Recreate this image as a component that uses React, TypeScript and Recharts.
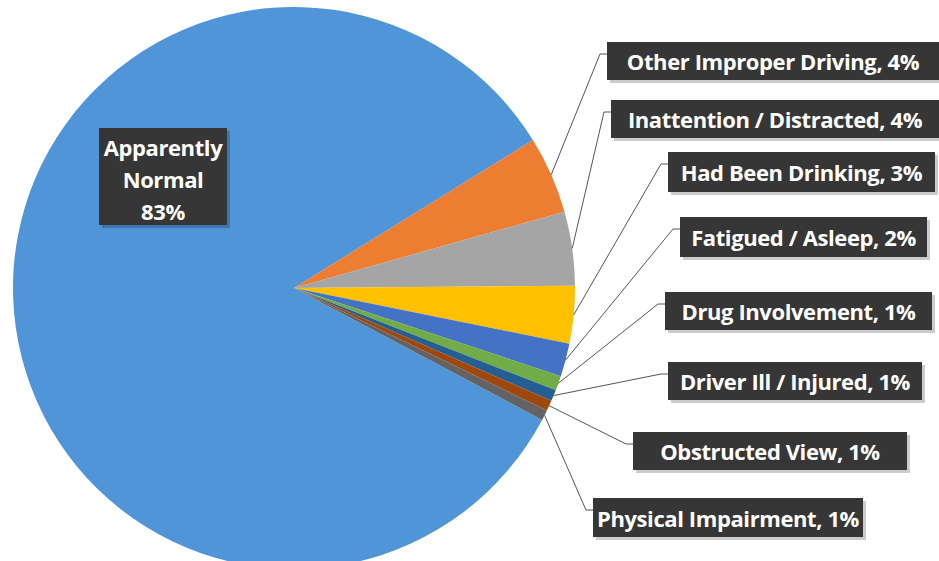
import React from 'react'
import { PieChart, Pie, Cell } from 'recharts'

// factors (percent of crashes)
const FACTORS = [
    'Apparently Normal',
    'Other Improper Driving',
    'Inattention / Distracted',
    'Had Been Drinking',
    'Fatigued / Asleep',
    'Drug Involvement',
    'Driver Ill / Injured',
    'Obstructed View',
    'Physical Impairment',
]
const SHARES = [83.4, 4.45, 4.25, 3.3, 1.9, 0.85, 0.65, 0.6, 0.6]
const COLORS = ['#4F95D8', '#ED7D31', '#A5A5A5', '#FFC000', '#4472C4', '#70AD47', '#255E91', '#9E480E', '#636363']

// where the label boxes sit (x, y, w, h)
const BOXES = [
    [99, 128, 128, 97],
    [607, 42, 332, 38],
    [611, 100, 328, 38],
    [668, 152, 267, 40],
    [680, 217, 247, 40],
    [665, 292, 267, 38],
    [668, 362, 254, 38],
    [633, 432, 274, 38],
    [593, 498, 270, 39],
]

const data = FACTORS.map((name, i) => ({ name, value: SHARES[i] }))

const RAD = Math.PI / 180
const FONT = '"Open Sans", Lato, sans-serif'
const BOX_FILL = '#363636'

const renderLabel = (props: any) => {
    const { cx, cy, midAngle, outerRadius, index, name, percent } = props
    const [bx, by, bw, bh] = BOXES[index]
    const pct = `${Math.round(percent * 100)}%`

    if (index === 0) {
        const words = name.split(' ')
        return (
            <g>
                <rect x={bx + 3} y={by + 3} width={bw} height={bh} fill="#000" opacity={0.2} />
                <rect x={bx} y={by} width={bw} height={bh} fill={BOX_FILL} />
                {[words[0], words[1], pct].map((t, k) => (
                    <text key={k} x={bx + bw / 2} y={by + 19 + k * 32} textAnchor="middle" dominantBaseline="central"
                        fill="#fff" fontFamily={FONT} fontWeight={700} fontSize={22} letterSpacing={-0.4}>{t}</text>
                ))}
            </g>
        )
    }

    const sx = cx + outerRadius * Math.cos(-midAngle * RAD)
    const sy = cy + outerRadius * Math.sin(-midAngle * RAD)
    const ex = bx - 7
    const ey = by + 12

    return (
        <g>
            <polyline points={`${sx},${sy} ${ex},${ey} ${bx},${ey}`} fill="none" stroke="#555" strokeWidth={1} />
            <rect x={bx + 3} y={by + 3} width={bw} height={bh} fill="#000" opacity={0.2} />
            <rect x={bx} y={by} width={bw} height={bh} fill={BOX_FILL} />
            <text x={bx + bw / 2} y={by + bh / 2} textAnchor="middle" dominantBaseline="central"
                fill="#fff" fontFamily={FONT} fontWeight={700} fontSize={22} letterSpacing={-0.4}>
                {`${name}, ${pct}`}
            </text>
        </g>
    )
}

export default function App() {
    return (
        <div style={{ position: 'absolute', left: 0, top: 0, background: '#fff' }}>
            <PieChart width={939} height={561} margin={{ top: 0, right: 0, bottom: 0, left: 0 }}>
                <Pie
                    data={data}
                    dataKey="value"
                    nameKey="name"
                    cx={294}
                    cy={288}
                    outerRadius={281}
                    startAngle={-28}
                    endAngle={-388}
                    stroke="none"
                    isAnimationActive={false}
                    label={renderLabel}
                    labelLine={false}
                >
                    {data.map((entry, index) => (
                        <Cell key={`cell-${index}`} fill={COLORS[index]} />
                    ))}
                </Pie>
            </PieChart>
        </div>
    )
}
